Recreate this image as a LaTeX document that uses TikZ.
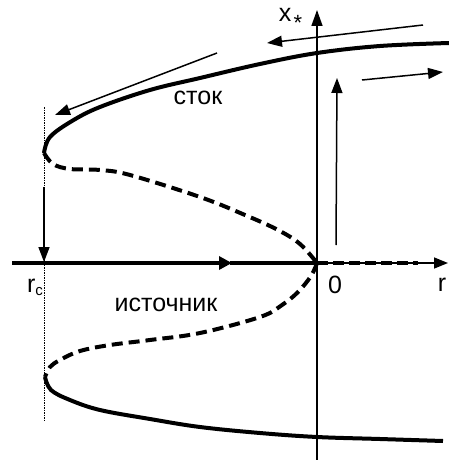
\documentclass[tikz,border=0pt]{standalone}
\usepackage{fontspec}
\setmainfont{Liberation Sans}
\usetikzlibrary{arrows.meta}

\begin{document}
\begin{tikzpicture}[x=1pt,y=-1pt,
    stable/.style={line width=4pt},
    unstable/.style={line width=4pt, dash pattern=on 11pt off 6pt},
    thinarrow/.style={line width=1.5pt, -{Triangle[length=15pt,width=11pt]}},
    lbl/.style={font=\fontsize{25}{28}\selectfont, inner sep=0pt}]
    % Parameters
    \def\rc{44}   % position of the turning point r_c
    \def\oy{263}  % height of the r axis
    \def\ox{317}  % position of the x_* axis

    \useasboundingbox (0,0) rectangle (449,460);

    % Axes
    \coordinate (O) at (\ox,\oy);
    \draw[line width=1.5pt, -{Triangle[length=16pt,width=11pt]}] (\ox,460) -- (\ox,10) coordinate (ytip);
    \draw[line width=1.5pt, -{Triangle[length=14pt,width=11pt]}] (O) -- (448,\oy) coordinate (xtip);
    \draw[stable, -{Triangle[length=13pt,width=13pt]}] (12,\oy) -- (232,\oy);
    \draw[stable] (230,\oy) -- (O);
    \draw[line width=3.5pt, dash pattern=on 11pt off 5pt] (O) -- (418,\oy);

    % Turning point line
    \draw[line width=0.8pt, dash pattern=on 1.5pt off 1pt] (\rc,107) -- (\rc,422);

    % Stable branches
    \coordinate (upnose) at (\rc,153);
    \coordinate (lownose) at (45,377);
    \draw[stable] plot[smooth, tension=0.6] coordinates {(upnose) (50,137) (72,121) (100,107) (150,90) (200,78) (260,64) (317,53) (380,46) (449,43)};
    \draw[stable] plot[smooth, tension=0.6] coordinates {(lownose) (51,390) (70,400) (100,410) (150,419) (200,427) (260,433) (317,437) (380,439) (443,441)};

    % Unstable branches
    \draw[unstable] plot[smooth, tension=0.6] coordinates {(upnose) (53,164) (70,169) (100,170) (130,175) (200,197) (245,215) (278,230) (300,244) (O)};
    \draw[unstable] plot[smooth, tension=0.6] coordinates {(O) (311,276) (298,292) (282,305) (260,317) (200,333) (150,340) (110,345) (80,351) (60,360) (50,367) (lownose)};

    % Flow arrows
    \coordinate (a1) at (217,53);  \coordinate (b1) at (55,115);
    \coordinate (a2) at (423,25);  \coordinate (b2) at (267,43);
    \coordinate (a3) at (362,80);  \coordinate (b3) at (443,72);
    \coordinate (a4) at (336,245); \coordinate (b4) at (337,78);
    \coordinate (a5) at (\rc,187); \coordinate (b5) at (\rc,262);
    \foreach \i in {1,...,5} {
        \draw[thinarrow] (a\i) -- (b\i);
    }

    % Labels
    \node[lbl] (xlab) at (285,15) {x};
    \node[inner sep=0pt, font=\fontsize{22}{24}\selectfont] (star) at (298,23) {*};
    \node[lbl] (sink) at (198,98) {сток};
    \node[lbl] (source) at (166,305) {источник};
    \node[lbl] (zero) at (335,285) {0};
    \node[lbl] (rlab) at (442,285) {r};
    \node[lbl] (rclab) at (35,287) {r\raisebox{-3pt}{\fontsize{15}{17}\selectfont c}};
\end{tikzpicture}
\end{document}
